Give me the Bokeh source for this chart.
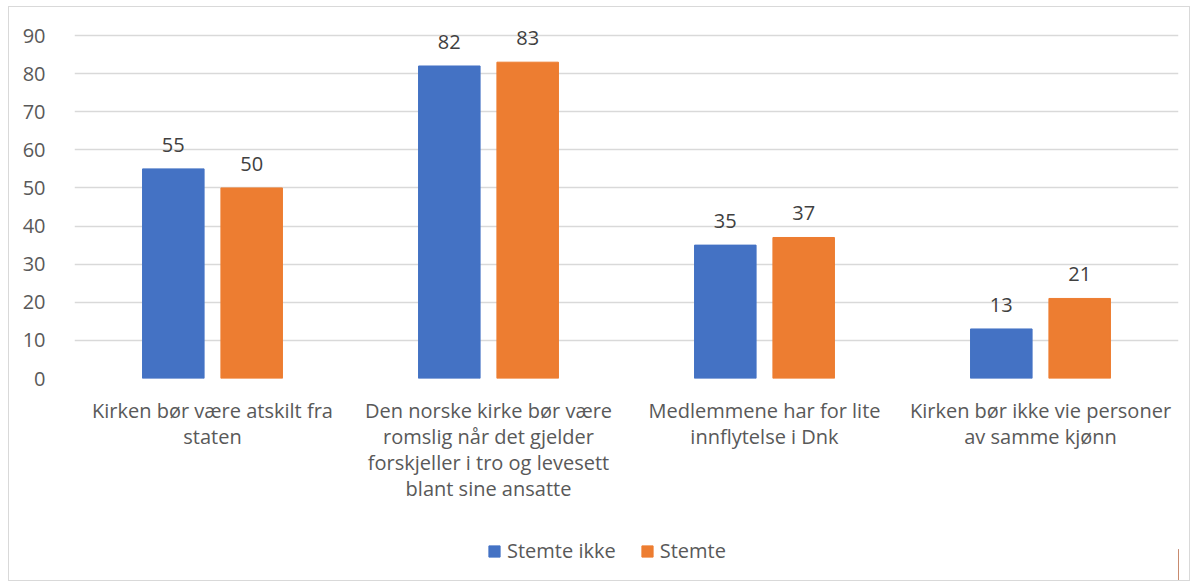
from bokeh.plotting import figure
from bokeh.layouts import column
from bokeh.models import (ColumnDataSource, Legend, LegendItem, FixedTicker, LabelSet,
                          LinearAxis)
from bokeh.transform import dodge
from bokeh.embed import file_html
from bokeh.resources import INLINE
from bokeh.core.properties import value

categories = [
    "Kirken bør være atskilt fra\nstaten",
    "Den norske kirke bør være\nromslig når det gjelder\nforskjeller i tro og levesett\nblant sine ansatte",
    "Medlemmene har for lite\ninnflytelse i Dnk",
    "Kirken bør ikke vie personer\nav samme kjønn",
]
stemte_ikke = [55, 82, 35, 13]
stemte = [50, 83, 37, 21]
y_ticks = [0, 10, 20, 30, 40, 50, 60, 70, 80, 90]
series_names = ["Stemte ikke", "Stemte"]
colors = ["#4472C4", "#ED7D31"]

FONT = "Open Sans"
FS = "20px"
OFF = 0.142
W = 0.223
Y_MAX = 90
x = [i + 0.5 for i in range(len(categories))]
src = ColumnDataSource(dict(
    x=x,
    ikke=stemte_ikke,
    stemte=stemte,
    ikke_lbl=[str(v) for v in stemte_ikke],
    stemte_lbl=[str(v) for v in stemte],
))

PX_PER_UNIT = 343 / Y_MAX
EXTRA_PX = 15
p = figure(frame_width=1104, frame_height=343 + EXTRA_PX,
           x_range=(0, len(categories)), y_range=(0, Y_MAX + EXTRA_PX / PX_PER_UNIT),
           output_backend="svg", toolbar_location=None, x_axis_location=None,
           min_border_left=65, min_border_right=11, min_border_top=28 - EXTRA_PX,
           min_border_bottom=140)
p.outline_line_color = None

r1 = p.vbar(x=dodge("x", -OFF), top="ikke", width=W, color=colors[0], source=src)
r2 = p.vbar(x=dodge("x", OFF), top="stemte", width=W, color=colors[1], source=src)

for col, lbl, off in (("ikke", "ikke_lbl", -OFF), ("stemte", "stemte_lbl", OFF)):
    p.add_layout(LabelSet(x=dodge("x", off), y=col, text=lbl, source=src, text_align="center",
                          text_baseline="bottom", y_offset=17, text_font=value(FONT),
                          text_font_size=FS, text_color="#404040"))

p.xgrid.grid_line_color = None
p.ygrid.grid_line_color = "#d9d9d9"
p.ygrid.grid_line_width = 1.3
p.yaxis.ticker = FixedTicker(ticks=y_ticks)
p.yaxis.axis_line_color = None
p.yaxis.major_tick_line_color = None
p.yaxis.minor_tick_line_color = None
p.yaxis.major_label_text_font = FONT
p.yaxis.major_label_text_font_size = FS
p.yaxis.major_label_text_color = "#595959"
p.yaxis.major_label_standoff = 23

# category labels: one axis per text line, stacked below the frame
split = [c.split("\n") for c in categories]
n_lines = max(len(s) for s in split)
for k in range(n_lines):
    ax = LinearAxis(ticker=FixedTicker(ticks=x),
                    major_label_overrides={xx: (s[k] if k < len(s) else " ")
                                           for xx, s in zip(x, split)},
                    axis_line_color=None, major_tick_line_color=None,
                    minor_tick_line_color=None, major_tick_out=0, major_tick_in=0,
                    major_label_text_font=FONT, major_label_text_font_size=FS,
                    major_label_text_color="#595959",
                    major_label_standoff=(18 if k == 0 else -4))
    p.add_layout(ax, "below")

# legend strip below the chart (swatch renderers sit outside the visible range)
lf = figure(width=1180, height=62, x_range=(0, 1), y_range=(0, 1),
            output_backend="svg", toolbar_location=None,
            x_axis_location=None, y_axis_location=None, min_border=0)
lf.grid.visible = False
lf.outline_line_color = None
lr1 = lf.vbar(x=[5], top=[0.5], width=0.1, color=colors[0])
lr2 = lf.vbar(x=[5], top=[0.5], width=0.1, color=colors[1])
legend = Legend(items=[LegendItem(label=series_names[0], renderers=[lr1]),
                       LegendItem(label=series_names[1], renderers=[lr2])],
                orientation="horizontal", location=(413, 16),
                glyph_width=14, glyph_height=14, border_line_color=None,
                background_fill_alpha=0,
                label_text_font=FONT, label_text_font_size=FS,
                label_text_color="#595959", spacing=24, margin=0, padding=5,
                label_standoff=6)
lf.add_layout(legend)

layout = column(p, lf, spacing=0,
                styles={"border": "1px solid #d9d9d9", "margin-left": "8px", "margin-top": "6px"})

open("out.html", "w").write(file_html(layout, INLINE))
